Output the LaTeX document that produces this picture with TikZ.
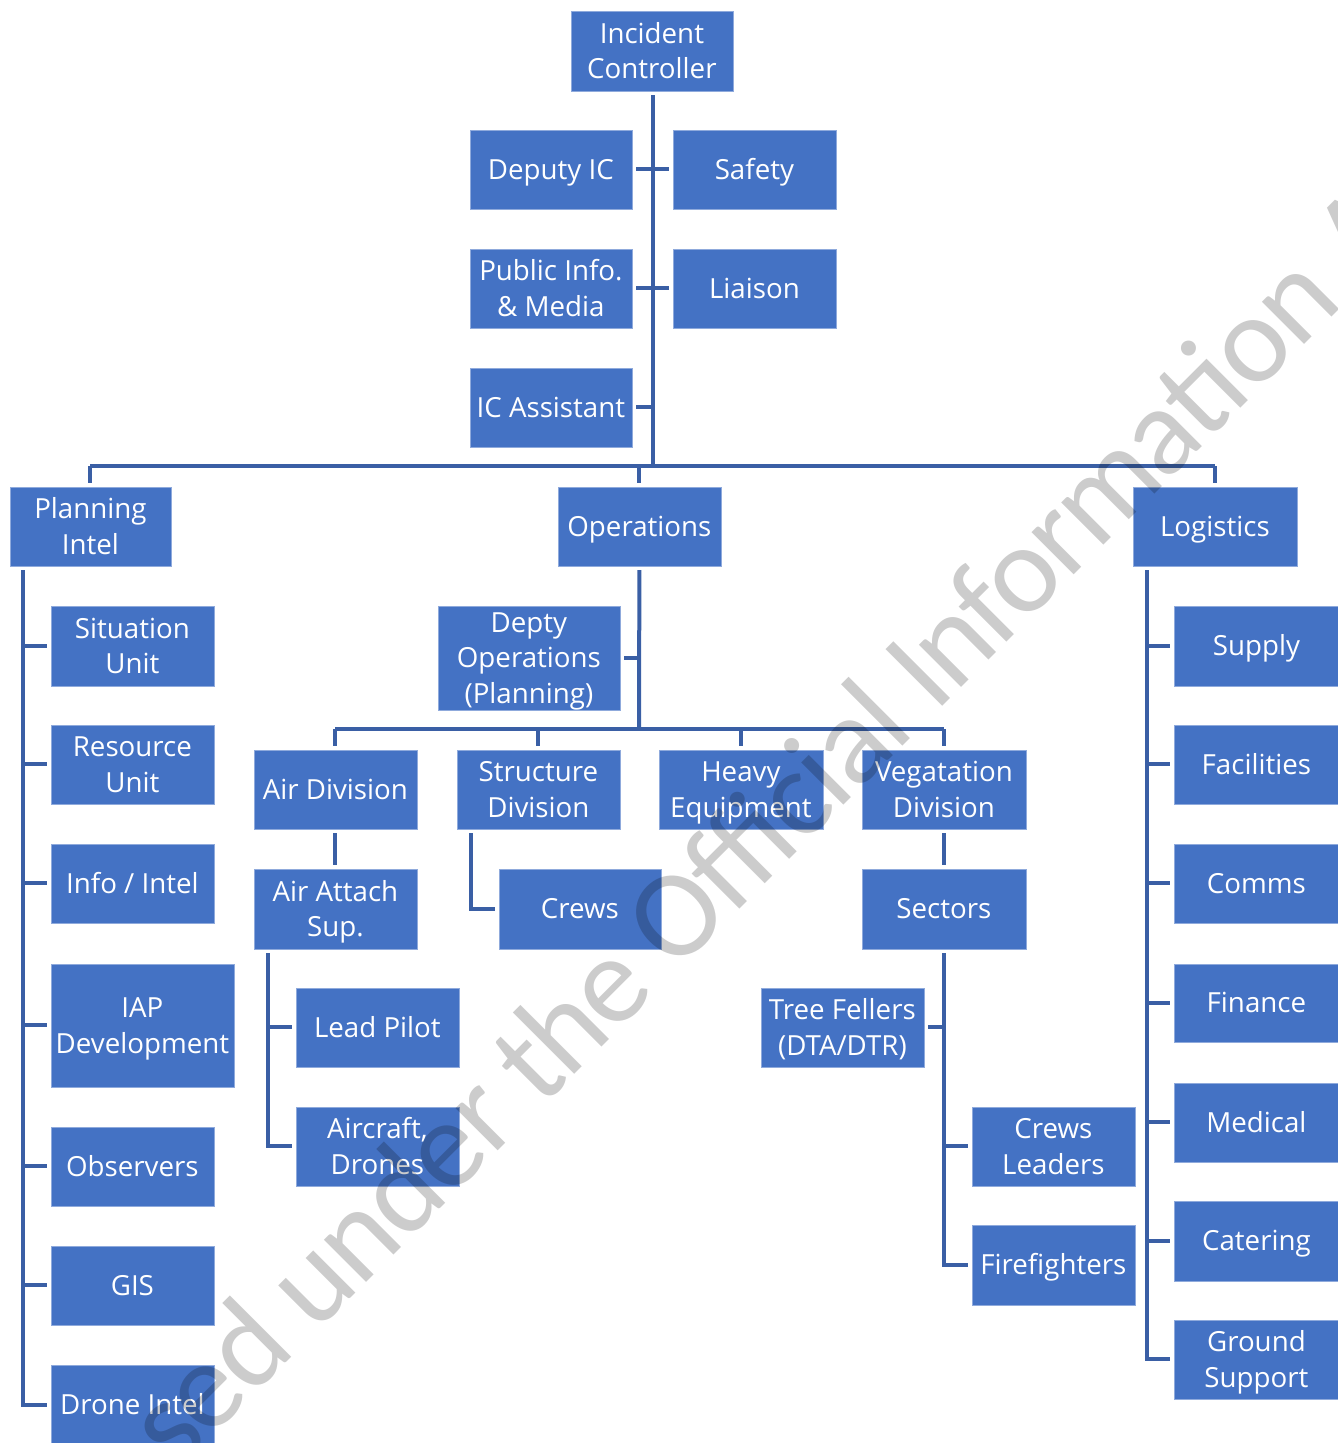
\documentclass[tikz,border=0pt]{standalone}
\usepackage{fontspec}
\setmainfont{Open Sans}
\newfontfamily\wmfont[LetterSpace=-2]{Carlito}
\definecolor{boxblue}{HTML}{4472C4}
\definecolor{boxedge}{HTML}{8FAADC}
\definecolor{linkblue}{HTML}{3A5FA5}
\tikzset{
  orgbox/.style={draw=boxedge,line width=.6pt,fill=boxblue,text=white,align=center,inner xsep=0pt,inner ysep=-2pt,
    font=\fontsize{27.7}{35.5}\selectfont},
  conn/.style={draw=linkblue,line width=4pt,line join=miter},
  conns/.style={conn,shorten >=4pt},
  connb/.style={conn,shorten <=4pt,shorten >=4pt},
}
\newcommand{\orgnode}[6]{%
  \node[orgbox,minimum width={(#4-#2)*1pt},minimum height={(#5-#3)*1pt}] (#1) at ({(#2+#4)/2-.1},{(#3+#5)/2-.1}) {\rule{0pt}{27.8pt}#6\rule[-7.7pt]{0pt}{7.7pt}};}
\begin{document}
\begin{tikzpicture}[x=1pt,y=-1pt]
\useasboundingbox (0,0) rectangle (1338,1443);
\begin{scope}
\clip (0,0) rectangle (1338,1443);
\orgnode{ic}{571}{11}{733}{91}{Incident\\Controller}
\orgnode{dep}{470}{130}{632}{209}{Deputy IC}
\orgnode{saf}{673}{130}{836}{209}{Safety}
\orgnode{pub}{470}{249}{632}{328}{Public Info.\\\& Media}
\orgnode{lia}{673}{249}{836}{328}{Liaison}
\orgnode{ica}{470}{368}{632}{447}{IC Assistant}
\orgnode{pl}{10}{487}{171}{566}{Planning\\Intel}
\orgnode{ops}{558}{487}{721}{566}{Operations}
\orgnode{log}{1133}{487}{1297}{566}{Logistics}
\orgnode{sit}{51}{606}{214}{686}{Situation\\Unit}
\orgnode{res}{51}{725}{214}{804}{Resource\\Unit}
\orgnode{inf}{51}{844}{214}{923}{Info / Intel}
\orgnode{iap}{51}{964}{234}{1087}{IAP\\Development}
\orgnode{obs}{51}{1127}{214}{1206}{Observers}
\orgnode{gis}{51}{1246}{214}{1325}{GIS}
\orgnode{dro}{51}{1365}{214}{1445}{Drone Intel}
\orgnode{dop}{438}{606}{620}{710}{Depty\\Operations\\(Planning)}
\orgnode{air}{254}{750}{417}{829}{Air Division}
\orgnode{str}{457}{750}{620}{829}{Structure\\Division}
\orgnode{hea}{659}{750}{823}{829}{Heavy\\Equipment}
\orgnode{veg}{862}{750}{1026}{829}{Vegatation\\Division}
\orgnode{att}{254}{869}{417}{949}{Air Attach\\Sup.}
\orgnode{cre}{499}{869}{661}{949}{Crews}
\orgnode{sec}{862}{869}{1026}{949}{Sectors}
\orgnode{lea}{296}{988}{459}{1067}{Lead Pilot}
\orgnode{acf}{296}{1107}{459}{1186}{Aircraft,\\Drones}
\orgnode{tre}{761}{988}{924}{1067}{Tree Fellers\\(DTA/DTR)}
\orgnode{crl}{972}{1107}{1135}{1186}{Crews\\Leaders}
\orgnode{fir}{972}{1225}{1135}{1305}{Firefighters}
\orgnode{sup}{1174}{606}{1339}{686}{Supply}
\orgnode{fac}{1174}{725}{1339}{804}{Facilities}
\orgnode{com}{1174}{844}{1339}{923}{Comms}
\orgnode{fin}{1174}{964}{1339}{1042}{Finance}
\orgnode{med}{1174}{1083}{1339}{1162}{Medical}
\orgnode{cat}{1174}{1201}{1339}{1281}{Catering}
\orgnode{gro}{1174}{1320}{1339}{1399}{Ground\\Support}
% helper coordinates
\coordinate (tk) at (653,466);
\coordinate (plx) at (23,0);
\coordinate (logx) at (1147,0);
\coordinate (bus2) at (639,729);
\coordinate (strx) at (471,0);
\coordinate (attx) at (268,0);
% top trunk
\draw[conn,shorten <=4pt] (ic.south -| tk) -- (tk);
\draw[conn] (pl.north |- tk) -- (log.north |- tk);
\draw[conns] (pl.north |- tk) -- (pl.north);
\draw[conns] (ops.north |- tk) -- (ops.north);
\draw[conns] (log.north |- tk) -- (log.north);
\draw[conns] (dep.east -| tk) -- (dep.east);
\draw[conns] (saf.west -| tk) -- (saf.west);
\draw[conns] (pub.east -| tk) -- (pub.east);
\draw[conns] (lia.west -| tk) -- (lia.west);
\draw[conns] (ica.east -| tk) -- (ica.east);
% planning
\draw[connb] (pl.south -| plx) -- (dro.west -| plx) -- (dro.west);
\foreach \n in {sit,res,inf,iap,obs,gis} \draw[conns] (\n.west -| plx) -- (\n.west);
% logistics
\draw[connb] (log.south -| logx) -- (gro.west -| logx) -- (gro.west);
\foreach \n in {sup,fac,com,fin,med,cat} \draw[conns] (\n.west -| logx) -- (\n.west);
% operations
\draw[conn,shorten <=4pt] (ops.south) -- (bus2);
\draw[conns] (dop.east -| bus2) -- (dop.east);
\draw[conn] (air.north |- bus2) -- (veg.north |- bus2);
\foreach \n in {air,str,hea,veg} \draw[conns] (\n.north |- bus2) -- (\n.north);
\draw[connb] (air.south) -- (att.north);
\draw[connb] (veg.south) -- (sec.north);
\draw[connb] (str.south -| strx) -- (cre.west -| strx) -- (cre.west);
% air attach
\draw[connb] (att.south -| attx) -- (acf.west -| attx) -- (acf.west);
\draw[conns] (lea.west -| attx) -- (lea.west);
% sectors
\draw[connb] (sec.south) -- (fir.west -| sec.south) -- (fir.west);
\draw[conns] (crl.west -| sec.south) -- (crl.west);
\draw[conns] (tre.east -| sec.south) -- (tre.east);
% watermark
\node[anchor=base west,rotate=45,inner sep=0pt,text=black,text opacity=.2,font=\wmfont\fontsize{125}{125}\selectfont] (wm) at (176,1473) {sed under the Official Information A};
\end{scope}
\end{tikzpicture}
\end{document}
